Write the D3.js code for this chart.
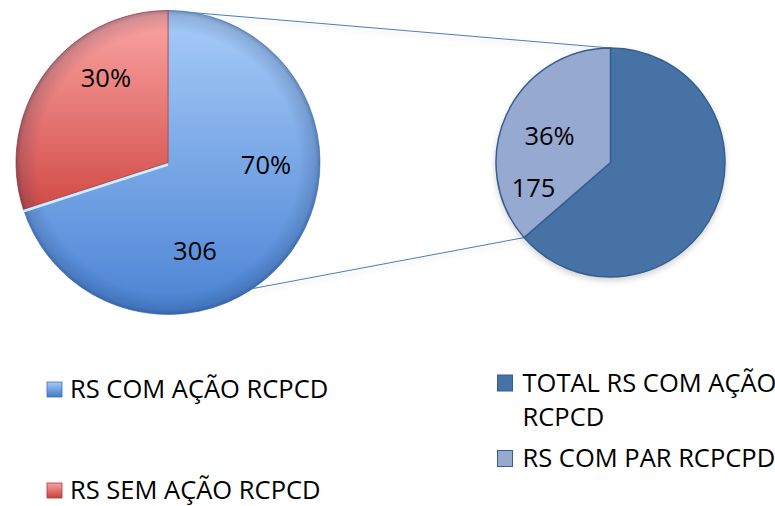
<!DOCTYPE html>
<html>
<head>
<meta charset="utf-8">
<script src="https://cdn.jsdelivr.net/npm/d3@7"></script>
<style>
  body { margin: 0; background: #fff; }
  text { font-family: "Open Sans", "Liberation Sans", sans-serif; fill: #000; }
</style>
</head>
<body>
<div id="chart"></div>
<script>
const width = 775,
      height = 506;

// main pie
const mainLabels = ["RS COM AÇÃO RCPCD", "RS SEM AÇÃO RCPCD"];
const mainValues = [306, 131];
// secondary pie
const subLabels = ["TOTAL RS COM AÇÃO RCPCD", "RS COM PAR RCPCPD"];
const subValues = [306, 175];

const fontSize = 25.5;

const svg = d3.select("#chart")
  .append("svg")
  .attr("width", width)
  .attr("height", height);

const defs = svg.append("defs");

const main = {cx: 168, cy: 162.5, r: 152};
const sub = {cx: 610.5, cy: 162.5, r: 114.5};

// gradients for the beveled main pie
function linGrad(id, c1, c2, y1, y2) {
  const g = defs.append("linearGradient")
    .attr("id", id)
    .attr("gradientUnits", "userSpaceOnUse")
    .attr("x1", 0).attr("x2", 0)
    .attr("y1", y1).attr("y2", y2);
  g.append("stop").attr("offset", 0).attr("stop-color", c1);
  g.append("stop").attr("offset", 1).attr("stop-color", c2);
}
linGrad("blueGrad", "#a8ccf8", "#4a83d4", -main.r, main.r);
linGrad("redGrad", "#fba6a4", "#d04844", -main.r, main.r * 0.35);
linGrad("blueKey", "#a6cbf7", "#3f79c9", 0, 15);
linGrad("redKey", "#f8a3a1", "#c9403c", 0, 15);

const rim = defs.append("radialGradient").attr("id", "rim");
rim.append("stop").attr("offset", 0.86).attr("stop-color", "#10254a").attr("stop-opacity", 0);
rim.append("stop").attr("offset", 0.97).attr("stop-color", "#10254a").attr("stop-opacity", 0.16);
rim.append("stop").attr("offset", 1).attr("stop-color", "#10254a").attr("stop-opacity", 0.35);

const shadow = defs.append("filter").attr("id", "soft")
  .attr("x", "-20%").attr("y", "-20%").attr("width", "140%").attr("height", "140%");
shadow.append("feGaussianBlur").attr("in", "SourceAlpha").attr("stdDeviation", 3);
shadow.append("feOffset").attr("dy", 3).attr("result", "b");
shadow.append("feComponentTransfer").append("feFuncA").attr("type", "linear").attr("slope", 0.18);
const merge = shadow.append("feMerge");
merge.append("feMergeNode");
merge.append("feMergeNode").attr("in", "SourceGraphic");

const pie = d3.pie().sort(null);
const mainArcs = pie(mainValues);
const subArcs = pie(subValues);

const deg = Math.PI / 180;
function polar(c, angle, r) {
  return [c.cx + r * Math.sin(angle), c.cy - r * Math.cos(angle)];
}

// connector lines (drawn first, pies on top)
const joinAngles = [
  [0, subArcs[1].endAngle],
  [146 * deg, subArcs[1].startAngle]
];
svg.append("g")
  .attr("filter", "url(#soft)")
  .selectAll("line")
  .data(joinAngles)
  .enter()
  .append("line")
  .attr("x1", d => polar(main, d[0], main.r)[0])
  .attr("y1", d => polar(main, d[0], main.r)[1])
  .attr("x2", d => polar(sub, d[1], sub.r)[0])
  .attr("y2", d => polar(sub, d[1], sub.r)[1])
  .attr("stroke", "#4a7ebb")
  .attr("stroke-width", 1);

// main pie
const mainArc = d3.arc().innerRadius(0).outerRadius(main.r);
const gMain = svg.append("g")
  .attr("transform", `translate(${main.cx}, ${main.cy})`);

gMain.selectAll("path.slice")
  .data(mainArcs)
  .enter()
  .append("path")
  .attr("class", "slice")
  .attr("d", mainArc)
  .attr("fill", (d, i) => i === 0 ? "url(#blueGrad)" : "url(#redGrad)")
  .attr("stroke", (d, i) => i === 0 ? "#5b8fd8" : "#b8423f")
  .attr("stroke-width", 0.8);

gMain.append("circle")
  .attr("r", main.r)
  .attr("fill", "url(#rim)");

// highlight on the lower edge of the split
gMain.append("line")
  .attr("x1", 0).attr("y1", 0)
  .attr("x2", main.r * Math.sin(mainArcs[1].startAngle))
  .attr("y2", -main.r * Math.cos(mainArcs[1].startAngle))
  .attr("stroke", "#d4ecff")
  .attr("stroke-width", 2.5)
  .attr("transform", "translate(0, 2)");

// secondary pie
const subArc = d3.arc().innerRadius(0).outerRadius(sub.r);
const gSub = svg.append("g")
  .attr("transform", `translate(${sub.cx}, ${sub.cy})`)
  .attr("filter", "url(#soft)");

gSub.selectAll("path")
  .data(subArcs)
  .enter()
  .append("path")
  .attr("d", subArc)
  .attr("fill", (d, i) => i === 0 ? "#4672a5" : "#95a9d1")
  .attr("stroke", "#365f8e")
  .attr("stroke-width", 1.5);

// data labels: [center, arc, text, angle shift from slice middle, radius]
const total = d3.sum(mainValues);
const subTotal = d3.sum(subValues);
const pct = (v, t) => Math.round(v / t * 100) + "%";
const labels = [
  [main, mainArcs[1], pct(mainValues[1], total), 17.7, 105],
  [main, mainArcs[0], pct(mainValues[0], total), -34.5, 98],
  [main, mainArcs[0], mainValues[0], 37, 92.5],
  [sub, subArcs[1], pct(subValues[1], subTotal), -1, 66.5],
  [sub, subArcs[1], subValues[1], -42.7, 81]
];
svg.append("g")
  .selectAll("text")
  .data(labels)
  .enter()
  .append("text")
  .attr("x", d => polar(d[0], (d[1].startAngle + d[1].endAngle) / 2 + d[3] * deg, d[4])[0])
  .attr("y", d => polar(d[0], (d[1].startAngle + d[1].endAngle) / 2 + d[3] * deg, d[4])[1])
  .attr("dy", "0.36em")
  .attr("text-anchor", "middle")
  .style("font-size", fontSize + "px")
  .text(d => d[2]);

// legend, left
const keyMain = svg.append("g")
  .selectAll("g")
  .data(mainLabels)
  .enter()
  .append("g")
  .attr("transform", (d, i) => `translate(47, ${382 + i * 101})`);
keyMain.append("rect")
  .attr("width", 15).attr("height", 15)
  .attr("fill", (d, i) => i === 0 ? "url(#blueKey)" : "url(#redKey)")
  .attr("stroke", (d, i) => i === 0 ? "#3c6fb5" : "#a83a37")
  .attr("stroke-width", 0.8);
keyMain.append("text")
  .attr("x", 23)
  .attr("y", 15.5)
  .style("font-size", fontSize + "px")
  .text(d => d);

// legend, right (first entry wraps)
const keySub = svg.append("g")
  .selectAll("g")
  .data(subLabels)
  .enter()
  .append("g")
  .attr("transform", (d, i) => `translate(497.5, ${375 + i * 75.5})`);
keySub.append("rect")
  .attr("width", 15).attr("height", 16)
  .attr("fill", (d, i) => i === 0 ? "#4672a5" : "#95a9d1")
  .attr("stroke", "#365f8e")
  .attr("stroke-width", 1);
keySub.append("text")
  .attr("x", 25)
  .attr("y", 16.5)
  .style("font-size", fontSize + "px")
  .each(function(d) {
    const words = d === subLabels[0] ? ["TOTAL RS COM AÇÃO", "RCPCD"] : [d];
    d3.select(this).selectAll("tspan")
      .data(words)
      .enter()
      .append("tspan")
      .attr("x", 25)
      .attr("dy", (w, j) => j === 0 ? 0 : 34.5)
      .text(w => w);
  });
</script>
</body>
</html>
